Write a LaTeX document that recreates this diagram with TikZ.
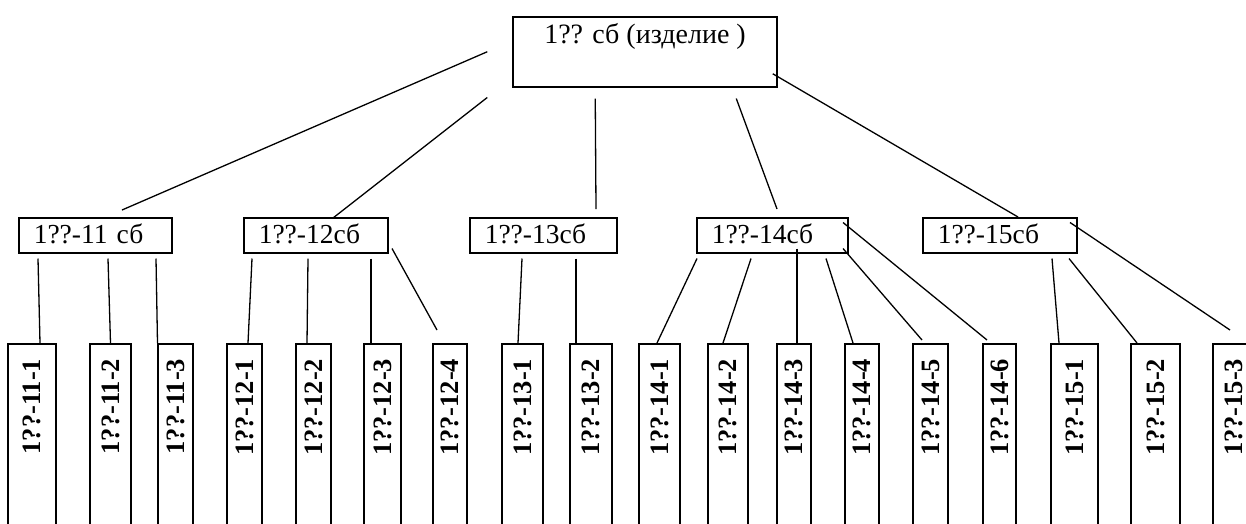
\documentclass[tikz,border=0pt]{standalone}
\usepackage{fontspec}
\setmainfont{Liberation Serif}
\usetikzlibrary{calc}

\tikzset{
  rootbox/.style={draw,line width=1.5pt,inner sep=0pt,minimum width=264pt,text height=27pt,text depth=43pt,font=\fontsize{28}{32}\selectfont},
  groupbox/.style={draw,line width=1.5pt,anchor=north west,inner xsep=15pt,inner ysep=0pt,text height=26pt,text depth=9pt,align=left,font=\fontsize{27.5}{32}\selectfont},
  leafbox/.style={draw,line width=1.5pt,rotate=90,anchor=east,minimum width=200pt,text width=170pt,align=right,inner xsep=15pt,inner ysep=0pt,font=\bfseries\fontsize{26.5}{30}\selectfont},
  link/.style={line width=1.3pt}
}

\begin{document}
\begin{tikzpicture}[x=1pt,y=-1pt]
  \useasboundingbox (0,0) rectangle (1246,523);
  \clip (0,0) rectangle (1246,523);
  \node (root) at (645,16) [rootbox,anchor=north] {1?? сб (изделие )};
  \node (g11) at (18,217) [groupbox,text width=123pt] {1??-11 сб};
  \node (g12) at (243,217) [groupbox,text width=114pt] {1??-12сб};
  \node (g13) at (469,217) [groupbox,text width=117pt] {1??-13сб};
  \node (g14) at (696,217) [groupbox,text width=121pt] {1??-14сб};
  \node (g15) at (922,217) [groupbox,text width=124pt] {1??-15сб};
  \node (l11-1) at (32,343) [leafbox,minimum height=48pt] {1??-11-1};
  \node (l11-2) at (110.5,343) [leafbox,minimum height=41pt] {1??-11-2};
  \node (l11-3) at (175.5,343) [leafbox,minimum height=35pt] {1??-11-3};
  \node (l12-1) at (244.5,343) [leafbox,minimum height=35pt] {1??-12-1};
  \node (l12-2) at (313.5,343) [leafbox,minimum height=35pt] {1??-12-2};
  \node (l12-3) at (382.5,343) [leafbox,minimum height=37pt] {1??-12-3};
  \node (l12-4) at (450,343) [leafbox,minimum height=34pt] {1??-12-4};
  \node (l13-1) at (522.5,343) [leafbox,minimum height=41pt] {1??-13-1};
  \node (l13-2) at (591,343) [leafbox,minimum height=42pt] {1??-13-2};
  \node (l14-1) at (659.5,343) [leafbox,minimum height=41pt] {1??-14-1};
  \node (l14-2) at (728,343) [leafbox,minimum height=40pt] {1??-14-2};
  \node (l14-3) at (794,343) [leafbox,minimum height=34pt] {1??-14-3};
  \node (l14-4) at (862,343) [leafbox,minimum height=34pt] {1??-14-4};
  \node (l14-5) at (930.5,343) [leafbox,minimum height=35pt] {1??-14-5};
  \node (l14-6) at (999.5,343) [leafbox,minimum height=33pt] {1??-14-6};
  \node (l15-1) at (1074.5,343) [leafbox,minimum height=47pt] {1??-15-1};
  \node (l15-2) at (1155.5,343) [leafbox,minimum height=49pt] {1??-15-2};
  \node (l15-3) at (1234,343) [leafbox,minimum height=42pt] {1??-15-3};
  % product to assemblies
  \draw [link] ($(root.west)+(-25,0)$) -- ($(g11.north west)+(104,-7)$);
  \draw [link] ($(root.south west)+(-25,10)$) -- ($(g12.north west)+(90,1)$);
  \draw [link] ($(root.south west)+(83,11)$) -- ($(g13.north west)+(127,-8)$);
  \draw [link] ($(root.south west)+(224,11)$) -- ($(g14.north west)+(81,-8)$);
  \draw [link] ($(root.east)+(-5,22)$) -- ($(g15.north west)+(96,0)$);
  % assemblies to parts
  \draw [link] ($(g11.south west)+(20,5)$) -- ($(l11-1.east)+(8,0)$);
  \draw [link] ($(g11.south west)+(90,5)$) -- (l11-2.east);
  \draw [link] ($(g11.south west)+(138,5)$) -- ($(l11-3.east)+(-18,0)$);
  \draw [link] ($(g12.south west)+(9,5)$) -- ($(l12-1.east)+(3.5,0)$);
  \draw [link] ($(g12.south west)+(65,5)$) -- ($(l12-2.east)+(-6.5,0)$);
  \draw [link] ($(g12.south west)+(128,5)$) -- ($(l12-3.east)+(-11.5,0)$);
  \draw [link] ($(g12.south west)+(149,-5)$) -- ($(l12-4.east)+(-13,-13)$);
  \draw [link] ($(g13.south west)+(53,5)$) -- ($(l13-1.east)+(-4.5,0)$);
  \draw [link] ($(g13.south west)+(107,5)$) -- ($(l13-2.east)+(-15,0)$);
  \draw [link] ($(g14.south west)+(1,5)$) -- ($(l14-1.east)+(-2.5,0)$);
  \draw [link] ($(g14.south west)+(55,5)$) -- ($(l14-2.east)+(-5,0)$);
  \draw [link] ($(g14.south west)+(101,-5)$) -- ($(l14-3.east)+(3,0)$);
  \draw [link] ($(g14.south west)+(130,5)$) -- ($(l14-4.east)+(-9,0)$);
  \draw [link] ($(g14.south west)+(147,-5)$) -- ($(l14-5.east)+(-8.5,-3)$);
  \draw [link] ($(g14.south west)+(147,-31)$) -- ($(l14-6.east)+(-12.5,-3)$);
  \draw [link] ($(g15.south west)+(130,5)$) -- ($(l15-1.east)+(-15.5,0)$);
  \draw [link] ($(g15.south west)+(147,5)$) -- ($(l15-2.east)+(-18.5,0)$);
  \draw [link] ($(g15.south west)+(148,-31)$) -- ($(l15-3.east)+(-4,-13)$);
\end{tikzpicture}
\end{document}
